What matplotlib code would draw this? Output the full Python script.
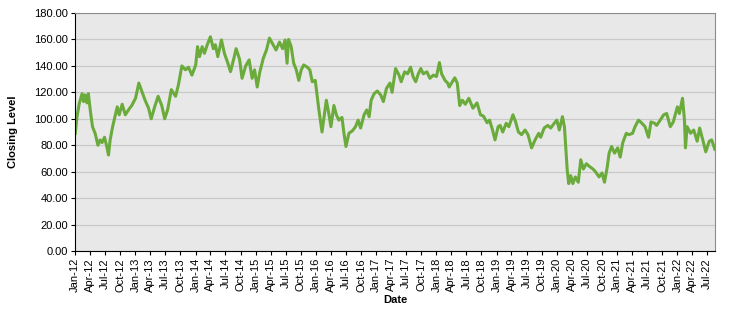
import matplotlib
matplotlib.use("Agg")
import matplotlib.pyplot as plt
import matplotlib.dates as mdates
from matplotlib.ticker import FormatStrFormatter
import pandas as pd

plt.rcParams['font.family'] = ['Liberation Sans', 'DejaVu Sans']

# closing levels
dates = [
    "2012-01-03", "2012-01-13", "2012-01-27", "2012-02-13", "2012-02-22", "2012-03-02",
    "2012-03-13", "2012-03-22", "2012-04-02", "2012-04-16", "2012-05-02", "2012-05-19",
    "2012-06-01", "2012-06-13", "2012-06-28", "2012-07-10", "2012-07-22", "2012-08-01",
    "2012-08-16", "2012-09-13", "2012-09-25", "2012-10-13", "2012-11-01", "2012-11-22",
    "2012-12-10", "2013-01-02", "2013-01-22", "2013-02-10", "2013-03-01", "2013-03-22",
    "2013-04-07", "2013-04-28", "2013-05-19", "2013-06-10", "2013-06-28", "2013-07-16",
    "2013-08-07", "2013-09-02", "2013-09-19", "2013-10-10", "2013-11-01", "2013-11-19",
    "2013-12-10", "2014-01-02", "2014-01-13", "2014-01-25", "2014-02-10", "2014-02-24",
    "2014-03-13", "2014-04-01", "2014-04-19", "2014-05-01", "2014-05-16", "2014-06-07",
    "2014-06-25", "2014-07-16", "2014-08-01", "2014-08-22", "2014-09-04", "2014-09-25",
    "2014-10-10", "2014-11-01", "2014-11-22", "2014-12-10", "2014-12-25", "2015-01-10",
    "2015-01-25", "2015-02-16", "2015-03-07", "2015-03-25", "2015-04-16", "2015-05-04",
    "2015-05-25", "2015-06-13", "2015-06-28", "2015-07-10", "2015-07-19", "2015-08-04",
    "2015-08-19", "2015-09-04", "2015-09-19", "2015-10-04", "2015-10-19", "2015-11-10",
    "2015-11-25", "2015-12-10", "2015-12-28", "2016-01-19", "2016-02-07", "2016-02-19",
    "2016-03-04", "2016-03-19", "2016-04-01", "2016-04-19", "2016-05-04", "2016-05-19",
    "2016-06-07", "2016-06-19", "2016-07-01", "2016-07-19", "2016-08-10", "2016-08-28",
    "2016-09-13", "2016-09-28", "2016-10-19", "2016-11-04", "2016-11-19", "2016-12-01",
    "2016-12-19", "2017-01-07", "2017-01-28", "2017-02-13", "2017-03-04", "2017-03-25",
    "2017-04-07", "2017-04-28", "2017-05-19", "2017-06-01", "2017-06-22", "2017-07-10",
    "2017-07-28", "2017-08-13", "2017-08-28", "2017-09-13", "2017-09-28", "2017-10-13",
    "2017-11-04", "2017-11-22", "2017-12-13", "2018-01-01", "2018-01-19", "2018-02-01",
    "2018-02-22", "2018-03-10", "2018-03-19", "2018-04-22", "2018-05-07", "2018-05-22",
    "2018-06-07", "2018-06-25", "2018-07-16", "2018-08-10", "2018-09-04", "2018-09-25",
    "2018-10-13", "2018-11-04", "2018-11-19", "2018-12-07", "2018-12-22", "2019-01-10",
    "2019-01-22", "2019-02-07", "2019-02-28", "2019-03-16", "2019-04-10", "2019-04-25",
    "2019-05-13", "2019-06-01", "2019-06-22", "2019-07-10", "2019-08-01", "2019-08-22",
    "2019-09-13", "2019-09-25", "2019-10-16", "2019-11-07", "2019-11-25", "2019-12-16",
    "2020-01-01", "2020-01-16", "2020-02-04", "2020-02-16", "2020-02-25", "2020-03-04",
    "2020-03-13", "2020-03-25", "2020-04-07", "2020-04-22", "2020-05-10", "2020-05-25",
    "2020-06-10", "2020-06-28", "2020-07-16", "2020-08-07", "2020-08-22", "2020-09-13",
    "2020-10-01", "2020-10-16", "2020-11-01", "2020-11-13", "2020-11-28", "2020-12-16",
    "2021-01-04", "2021-01-19", "2021-02-04", "2021-02-25", "2021-03-13", "2021-04-04",
    "2021-04-19", "2021-05-10", "2021-05-28", "2021-06-19", "2021-07-10", "2021-07-25",
    "2021-08-16", "2021-08-28", "2021-09-19", "2021-10-10", "2021-10-28", "2021-11-19",
    "2021-12-07", "2022-01-01", "2022-01-13", "2022-02-01", "2022-02-13", "2022-02-19",
    "2022-03-01", "2022-03-22", "2022-04-10", "2022-05-01", "2022-05-16", "2022-06-04",
    "2022-06-22", "2022-07-13", "2022-07-28", "2022-08-16",
]
closing = [
    89, 101.6, 111.7, 119, 113, 118,
    112, 119, 107, 94, 89, 80,
    84, 82, 86, 80, 72.6, 84,
    94, 109, 103, 111, 103, 107,
    110, 115.5, 127, 120.5, 114, 108,
    100, 109, 117, 110, 100, 107,
    122, 117, 125.6, 140, 137, 139,
    133, 140.7, 154.5, 147, 154.5, 149.5,
    156, 162, 153, 156, 147, 159.6,
    149.5, 142, 135.6, 146, 153, 145,
    130.6, 140, 144.5, 130.6, 137, 124,
    135, 145.8, 152, 161, 156, 152,
    158, 153, 159.6, 142, 160, 154.5,
    142, 137, 129, 137, 140.7, 139,
    137, 128, 129, 106.7, 90, 101,
    114, 104, 94, 110, 103, 99,
    101, 89, 79, 89, 91, 94,
    99, 93, 103, 106.7, 101.6, 114,
    119, 121, 118, 113, 123, 127,
    120, 138, 133, 128, 135.5, 134,
    139, 131.6, 128, 134, 138, 134,
    135.5, 130.6, 133, 132, 142.5, 134,
    129, 127, 124, 131, 127, 110,
    114, 111, 115.5, 108, 112, 103,
    102, 97, 99, 91.5, 84, 94,
    95, 90, 96.6, 94, 103, 98,
    90, 88, 91.5, 88, 78, 84,
    89, 86, 93, 95, 93, 96.6,
    99, 91.5, 101.6, 94, 76, 61,
    51, 57, 51, 56, 52, 69,
    62, 66, 64, 62, 60, 56,
    59, 52, 63, 74, 79, 74,
    78, 71, 82, 89, 88, 89,
    94, 99, 97, 94, 86, 97.6,
    96.6, 95, 99, 103, 104, 94,
    97.6, 109, 104, 115.5, 99, 78,
    94, 89, 91.5, 83, 93, 84,
    75, 83, 84, 77,
]

x = pd.to_datetime(dates)

fig = plt.figure(figsize=(7.39, 3.16), dpi=100)
ax = fig.add_axes([0.1015, 0.2057, 0.8660, 0.7532])
ax.set_facecolor('#e8e8e8')

ax.plot(x, closing, color='#6aab3c', linewidth=2.2, solid_joinstyle='round')

ax.set_ylim(0, 180)
ax.set_yticks(range(0, 181, 20))
ax.yaxis.set_major_formatter(FormatStrFormatter('%.2f'))
ax.grid(axis='y', color='#c9c9c9', linewidth=0.9)
ax.set_axisbelow(True)

ax.set_xlim(pd.Timestamp("2012-01-01"), pd.Timestamp("2022-08-17"))
ax.xaxis.set_major_locator(mdates.MonthLocator(bymonth=[1, 4, 7, 10]))
ax.xaxis.set_major_formatter(mdates.DateFormatter('%b-%y'))
plt.setp(ax.get_xticklabels(), rotation=90)

ax.tick_params(axis='both', labelsize=8, length=3, color='black', pad=2)
for side in ['top', 'right']:
    ax.spines[side].set_color('#8c8c8c')
for side in ['left', 'bottom']:
    ax.spines[side].set_color('black')

ax.set_xlabel('Date', fontsize=8, fontweight='bold', labelpad=2)
ax.set_ylabel('Closing Level', fontsize=8, fontweight='bold', labelpad=12)

fig.savefig('out.png', dpi=100)
